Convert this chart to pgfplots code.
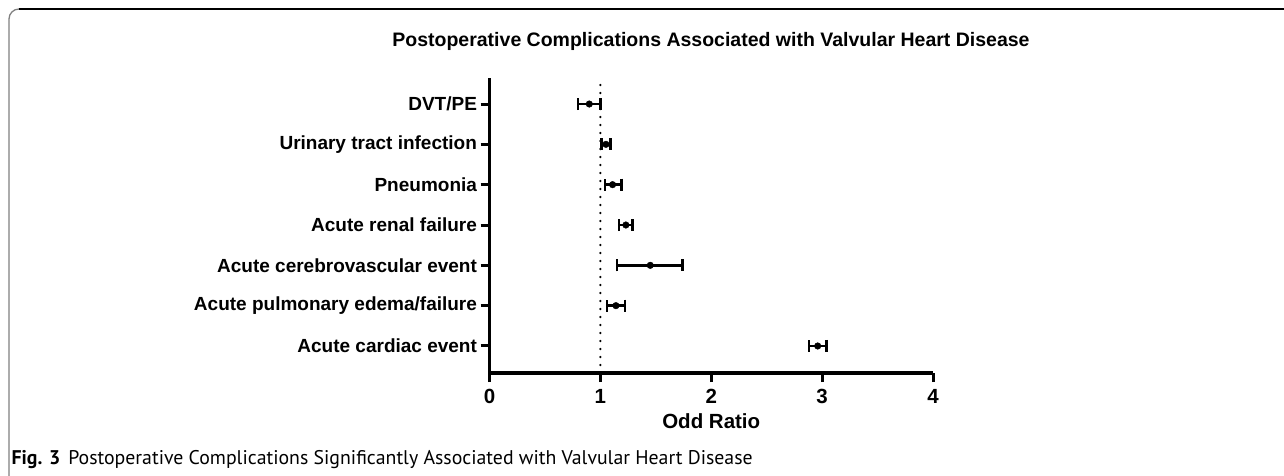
\documentclass[border=0pt]{standalone}
\usepackage{fontspec}
\setmainfont{Liberation Sans}
\newfontfamily\capfont{PT Sans}
\usepackage{pgfplots}
\pgfplotsset{compat=1.18}
\pgfplotstableread{
y x ep em
7 0.90 0.10 0.10
6 1.05 0.04 0.04
5 1.11 0.08 0.07
4 1.23 0.06 0.06
3 1.45 0.29 0.30
2 1.14 0.08 0.08
1 2.96 0.08 0.08
}\datatable
\begin{document}
\begin{tikzpicture}[x=1pt,y=1pt]
\path[use as bounding box] (0,0) rectangle (1284,475);
\draw[line width=1.3pt, black!50] (9,-5) -- (9,456) arc[start angle=180,end angle=90,radius=10];
\draw[line width=1.5pt, black] (19,466) -- (1290,466);
\node[font=\bfseries\fontsize{19.5}{19.5}\selectfont, anchor=base] at (711,428) {Postoperative Complications Associated with Valvular Heart Disease};
\node[anchor=base west, font=\capfont\fontsize{19.8}{19.8}\selectfont] at (8,11) {\textbf{Fig. 3}\hspace{8pt}Postoperative Complications Significantly Associated with Valvular Heart Disease};
\begin{axis}[at={(489.5pt,102pt)}, anchor=south west, scale only axis,
  width=443.5pt, height=295pt,
  xmin=0, xmax=4, ymin=0.33, ymax=7.645,
  axis x line*=bottom, axis y line*=left,
  axis line style={line width=3.5pt, -},
  xtick={0,1,2,3,4}, ytick={1,2,3,4,5,6,7},
  yticklabels={Acute cardiac event, Acute pulmonary edema/failure, Acute cerebrovascular event, Acute renal failure, Pneumonia, Urinary tract infection, DVT/PE},
  tick align=outside, major tick length=9pt,
  tick style={line width=3pt, black},
  yticklabel style={font=\bfseries\fontsize{19}{19}\selectfont},
  xticklabel style={font=\bfseries\fontsize{20.5}{20.5}\selectfont, yshift=-4pt},
  /pgf/number format/assume math mode=true,
  xlabel={Odd Ratio}, xlabel style={font=\bfseries\fontsize{20.5}{20.5}\selectfont, yshift=-3pt},
  clip=false,
]
\addplot[line width=2.5pt, dash pattern=on 0pt off 8pt, line cap=round] coordinates {(1,0.33) (1,7.645)};
\addplot[only marks, mark=*, mark size=3.3pt, black,
  error bars/.cd, x dir=both, x explicit,
  error bar style={line width=2.5pt, black},
  error mark options={rotate=90, mark size=6pt, line width=2.5pt, black}]
  table[x=x, y=y, x error plus=ep, x error minus=em] {\datatable};
\end{axis}
\end{tikzpicture}
\end{document}
